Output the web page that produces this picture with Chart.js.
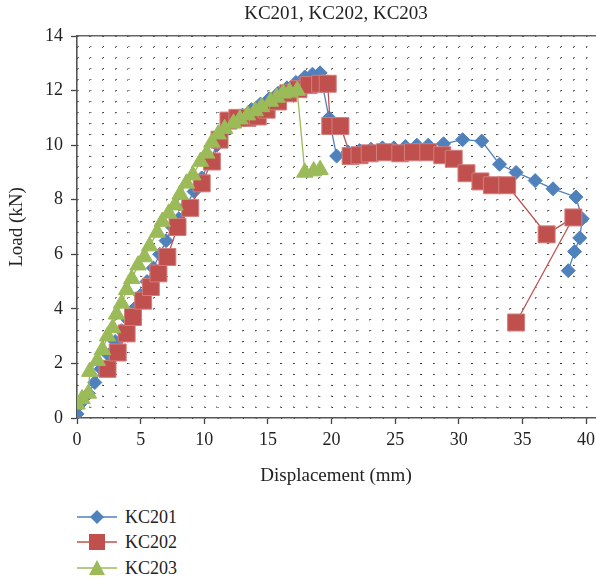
<!DOCTYPE html>
<html>
<head>
<meta charset="utf-8">
<script src="https://cdn.jsdelivr.net/npm/chart.js@4/dist/chart.umd.min.js"></script>
<style>
  html, body { margin: 0; padding: 0; background: #fff; }
  #wrap { position: relative; width: 596px; height: 579px; }
  #c { position: absolute; left: 0; top: 0; }
  .leg { position: absolute; left: 77px; font-family: "Liberation Serif", "DejaVu Serif", serif; font-size: 18px; color: #222; display: flex; align-items: center; height: 24px; }
  .leg svg { margin-right: 8px; }
</style>
</head>
<body>
<div id="wrap">
  <canvas id="c" width="596" height="490"></canvas>
  <div class="leg" style="top:505px"><svg width="40" height="20"><line x1="0" y1="10" x2="40" y2="10" stroke="#4F81BD" stroke-width="1.3"/><polygon points="20,3 27,10 20,17 13,10" fill="#4F81BD"/></svg><span>KC201</span></div>
  <div class="leg" style="top:530px"><svg width="40" height="20"><line x1="0" y1="10" x2="40" y2="10" stroke="#C0504D" stroke-width="1.3"/><rect x="12" y="2" width="16" height="16" fill="#C0504D"/></svg><span>KC202</span></div>
  <div class="leg" style="top:556px"><svg width="40" height="20"><line x1="0" y1="10" x2="40" y2="10" stroke="#9BBB59" stroke-width="1.3"/><polygon points="20,2 28,17 12,17" fill="#9BBB59"/></svg><span>KC203</span></div>
</div>
<script>
const titleText = "KC201, KC202, KC203";
const xTitle = "Displacement (mm)";
const yTitle = "Load (kN)";
const seriesNames = ["KC201", "KC202", "KC203"];

const kc201X = [0, 0.2, 0.9, 1.4, 1.9, 2.5, 3.0, 3.5, 4.0, 4.5, 5.0, 5.5, 6.0, 6.5, 7.0, 7.5, 8.0, 8.6, 9.2, 9.8, 10.4, 11.0, 11.6, 12.3, 13.0, 13.7, 14.4, 15.1, 15.8, 16.5, 17.2, 17.9, 18.5, 19.1, 19.8, 20.4, 21.3, 22.2, 23.1, 24.0, 24.9, 25.8, 26.7, 27.6, 28.8, 30.3, 31.8, 33.2, 34.5, 36.0, 37.4, 39.2, 39.7, 39.5, 39.1, 38.6];
const kc201Y = [0.15, 0.5, 0.9, 1.3, 1.8, 2.3, 2.8, 3.2, 3.6, 4.0, 4.5, 5.0, 5.5, 6.0, 6.5, 7.0, 7.3, 7.8, 8.3, 8.8, 9.4, 10.0, 10.5, 10.9, 11.1, 11.3, 11.5, 11.7, 11.9, 12.1, 12.3, 12.5, 12.6, 12.65, 11.0, 9.6, 9.75, 9.8, 9.85, 9.9, 9.9, 9.95, 10.0, 10.0, 10.05, 10.2, 10.15, 9.3, 9.0, 8.7, 8.4, 8.1, 7.3, 6.6, 6.1, 5.4];

const kc202X = [2.4, 3.2, 3.9, 4.4, 5.2, 5.8, 6.4, 7.1, 7.9, 8.9, 9.8, 10.6, 11.2, 11.9, 12.6, 13.4, 14.2, 14.9, 15.8, 16.6, 17.4, 18.2, 19.1, 19.7, 19.9, 20.7, 21.5, 22.2, 23.0, 24.2, 25.4, 26.4, 27.6, 28.7, 29.6, 30.6, 31.7, 32.6, 33.8, 36.9, 39.0, 34.5];
const kc202Y = [1.8, 2.4, 3.1, 3.7, 4.3, 4.8, 5.3, 5.9, 7.0, 7.7, 8.6, 9.4, 10.2, 10.9, 11.0, 11.0, 11.05, 11.3, 11.6, 11.9, 12.05, 12.2, 12.25, 12.25, 10.7, 10.7, 9.6, 9.63, 9.7, 9.74, 9.7, 9.74, 9.74, 9.63, 9.5, 8.97, 8.67, 8.53, 8.53, 6.73, 7.35, 3.5];

const kc203X = [0, 0.4, 0.9, 1.0, 1.6, 2.0, 2.4, 2.8, 3.1, 3.5, 3.9, 4.3, 4.8, 5.3, 5.7, 6.3, 6.7, 7.2, 7.7, 8.1, 8.6, 9.1, 9.7, 10.2, 10.6, 11.1, 11.6, 12.3, 12.8, 13.4, 14.0, 14.5, 15.2, 15.7, 16.2, 16.7, 17.3, 17.9, 18.6, 19.1];
const kc203Y = [0.5, 0.7, 0.9, 1.7, 2.1, 2.5, 3.0, 3.3, 3.8, 4.2, 4.7, 5.1, 5.6, 5.9, 6.3, 6.8, 7.2, 7.5, 7.8, 8.2, 8.6, 8.9, 9.4, 9.7, 10.1, 10.4, 10.6, 10.8, 10.95, 11.1, 11.25, 11.4, 11.6, 11.75, 11.9, 11.95, 12.0, 9.0, 9.05, 9.1];

const xMajorTicks = [0, 5, 10, 15, 20, 25, 30, 35, 40];
const yMajorTicks = [0, 2, 4, 6, 8, 10, 12, 14];
const xMinorStep = 1;
const yMinorStep = 0.4;

const toPts = (xs, ys) => xs.map((x, i) => ({ x: x, y: ys[i] }));
const serif = "'Liberation Serif', 'DejaVu Serif', serif";
const isMajor = (v, step) => Math.abs(v / step - Math.round(v / step)) < 1e-6;
const buildTicks = (lo, hi, step) => {
  const out = [];
  const n = Math.round((hi - lo) / step);
  for (let i = 0; i <= n; i++) out.push({ value: Math.round((lo + i * step) * 1000) / 1000 });
  return out;
};

new Chart(document.getElementById('c'), {
  type: 'line',
  data: {
    datasets: [
      { label: seriesNames[0], data: toPts(kc201X, kc201Y), borderColor: '#4F81BD', backgroundColor: '#4F81BD', pointBackgroundColor: '#4F81BD', pointBorderColor: '#4F81BD', pointStyle: 'rectRot', pointRadius: 7, pointBorderWidth: 1, borderWidth: 1.3, order: 2 },
      { label: seriesNames[1], data: toPts(kc202X, kc202Y), borderColor: '#C0504D', backgroundColor: '#C0504D', pointBackgroundColor: '#C0504D', pointBorderColor: '#D27E7C', pointStyle: 'rect', pointRadius: 12, pointBorderWidth: 1, borderWidth: 1.3, order: 1 },
      { label: seriesNames[2], data: toPts(kc203X, kc203Y), borderColor: '#9BBB59', backgroundColor: '#9BBB59', pointBackgroundColor: '#9BBB59', pointBorderColor: '#9BBB59', pointStyle: 'triangle', pointRadius: 9.5, pointBorderWidth: 1, borderWidth: 1.3, order: 0 }
    ]
  },
  options: {
    responsive: false,
    animation: false,
    layout: { autoPadding: false, padding: { left: 0, right: 1, top: 0, bottom: 0 } },
    plugins: { legend: { display: false }, title: { display: false }, tooltip: { enabled: false } },
    scales: {
      x: {
        type: 'linear', position: 'bottom', min: 0, max: 40.7,
        afterBuildTicks: s => { s.ticks = buildTicks(0, 40, xMinorStep); },
        afterFit: s => { s.height = 72; s.paddingRight = 0; s.paddingLeft = 0; },
        ticks: { autoSkip: false, maxRotation: 0, padding: 5, color: '#222', font: { family: serif, size: 18 },
          callback: v => (isMajor(v, 5) && xMajorTicks.includes(Math.round(v))) ? String(Math.round(v)) : '' },
        grid: { display: true, color: '#333', lineWidth: 1, drawTicks: true, tickLength: 6, tickWidth: 1.3,
          tickColor: c => (c.tick && isMajor(c.tick.value, 5)) ? '#444' : 'rgba(0,0,0,0)', tickBorderDash: [] },
        border: { display: true, color: '#555', width: 1.6, dash: [1, 9.9] },
        title: { display: true, text: xTitle, color: '#222', font: { family: serif, size: 19 }, padding: { top: 2, bottom: 3 } }
      },
      x2: {
        type: 'linear', position: 'top', min: 0, max: 40.7,
        afterFit: s => { s.height = 36; s.paddingRight = 0; s.paddingLeft = 0; },
        ticks: { display: false },
        grid: { display: false, drawTicks: false },
        border: { display: true, color: '#666', width: 1.4 },
        title: { display: true, text: titleText, color: '#222', font: { family: serif, size: 19 }, padding: { top: 3, bottom: 0 } }
      },
      y: {
        type: 'linear', position: 'left', min: 0, max: 14,
        afterBuildTicks: s => { s.ticks = buildTicks(0, 14, yMinorStep); },
        afterFit: s => { s.width = 77; },
        ticks: { autoSkip: false, padding: 8, color: '#222', font: { family: serif, size: 18 },
          callback: v => (isMajor(v, 2) && yMajorTicks.includes(Math.round(v))) ? String(Math.round(v)) : '' },
        grid: { display: true, color: '#333', lineWidth: 1, drawTicks: true, tickLength: 6, tickWidth: 1.3,
          tickColor: c => (c.tick && isMajor(c.tick.value, 2)) ? '#444' : 'rgba(0,0,0,0)', tickBorderDash: [] },
        border: { display: true, color: '#555', width: 1.6, dash: [1, 11.72] },
        title: { display: true, text: yTitle, color: '#222', font: { family: serif, size: 19 }, padding: { top: 6, bottom: 0 } }
      }
    }
  }
});
</script>
</body>
</html>
